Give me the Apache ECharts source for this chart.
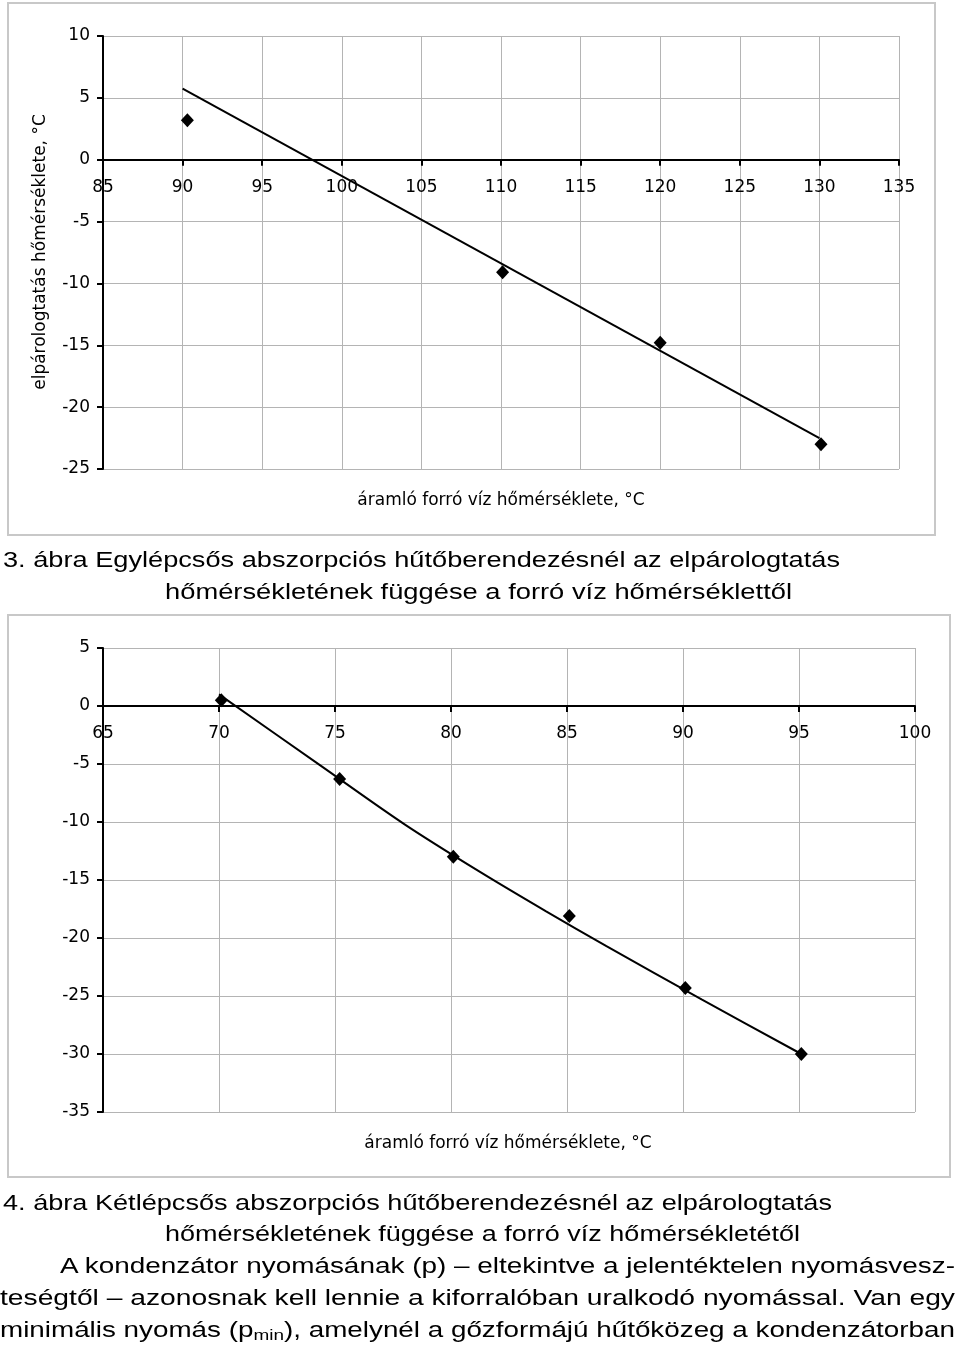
<!DOCTYPE html>
<html>
<head>
<meta charset="utf-8">
<script src="https://cdn.jsdelivr.net/npm/echarts@6/dist/echarts.min.js"></script>
<style>
  html, body { margin: 0; padding: 0; background: #fff; }
  #wrap { position: relative; width: 960px; height: 1345px; overflow: hidden; }
  #chart { position: absolute; left: 0; top: 0; width: 960px; height: 1345px; }
  .cap { position: absolute; white-space: nowrap; font-family: "Liberation Sans", Arial, sans-serif;
         font-size: 22px; line-height: 26px; color: #000; transform-origin: 0 50%; }
  .cap sub { font-size: 15px; vertical-align: -3px; line-height: 0; }
</style>
</head>
<body>
<div id="wrap">
  <div id="chart"></div>
</div>
<script>
// ---------- DATA ----------
// Fig. 3 – single-stage: measured points
const fig3X = [90.3, 110.1, 120.0, 130.1];
const fig3Y = [3.2, -9.1, -14.8, -23.0];
// Fig. 3 – fitted line (read end points)
const fig3LineX = [90.0, 130.0];
const fig3LineY = [5.75, -22.5];
// Fig. 4 – two-stage: measured points
const fig4X = [70.1, 75.2, 80.1, 85.1, 90.1, 95.1];
const fig4Y = [0.5, -6.3, -13.0, -18.1, -24.3, -30.0];
// Fig. 4 – fitted curve
const fig4LineX = [70.0, 74.35, 78.0, 81.25, 84.1, 86.7, 90.8, 95.1];
const fig4LineY = [1.0, -5.1, -10.2, -14.3, -17.7, -20.7, -25.3, -30.0];
// Axis ranges (tick labels generated every 5)
const fig3XRange = [85, 135];
const fig3YRange = [-25, 10];
const fig4XRange = [65, 100];
const fig4YRange = [-35, 5];
const tickStep = 5;
// Texts
const yName3 = "elpárologtatás hőmérséklete, °C";
const xName = "áramló forró víz hőmérséklete, °C";
const captionLines = [
  "3. ábra Egylépcsős abszorpciós hűtőberendezésnél az elpárologtatás",
  "hőmérsékletének függése a forró víz hőmérséklettől",
  "4. ábra Kétlépcsős abszorpciós hűtőberendezésnél az elpárologtatás",
  "hőmérsékletének függése a forró víz hőmérsékletétől",
  "A kondenzátor nyomásának (p) – eltekintve a jelentéktelen nyomásvesz-",
  "teségtől – azonosnak kell lennie a kiforralóban uralkodó nyomással. Van egy",
  "minimális nyomás (p<sub>min</sub>), amelynél a gőzformájú hűtőközeg a kondenzátorban"
];

// ---------- helpers ----------
const zip = (xs, ys) => xs.map((x, i) => [x, ys[i]]);
const FONT = "DejaVu Sans";
const grids = [
  { left: 103, top: 36, width: 796, height: 433 },
  { left: 103, top: 648, width: 812, height: 464 }
];

// x axis drawn along y = 0 (offset computed from the y range and grid height)
function xAxisCfg(range, yRange, gridIndex) {
  const g = grids[gridIndex];
  const zeroFromBottom = g.height * (0 - yRange[0]) / (yRange[1] - yRange[0]);
  return {
    type: 'value', gridIndex, min: range[0], max: range[1], interval: tickStep,
    position: 'bottom', offset: -zeroFromBottom,
    axisLine: { onZero: false, lineStyle: { color: '#000', width: 2 } },
    axisTick: { show: true, inside: false, length: 6, lineStyle: { color: '#000', width: 2 } },
    axisLabel: { color: '#000', fontSize: 17, fontFamily: FONT, margin: 19, showMinLabel: true, showMaxLabel: true },
    splitLine: { show: true, lineStyle: { color: '#b4b4b4', width: 1 } }
  };
}
function yAxisCfg(range, gridIndex) {
  return {
    type: 'value', gridIndex, min: range[0], max: range[1], interval: tickStep,
    axisLine: { show: true, onZero: false, lineStyle: { color: '#000', width: 2 } },
    axisTick: { show: true, inside: false, length: 6, lineStyle: { color: '#000', width: 2 } },
    axisLabel: { color: '#000', fontSize: 17, fontFamily: FONT, margin: 13 },
    splitLine: { show: true, lineStyle: { color: '#b4b4b4', width: 1 } }
  };
}

const chart = echarts.init(document.getElementById('chart'), null, { renderer: 'canvas' });
chart.setOption({
  animation: false,
  backgroundColor: '#fff',
  grid: grids,
  xAxis: [xAxisCfg(fig3XRange, fig3YRange, 0), xAxisCfg(fig4XRange, fig4YRange, 1)],
  yAxis: [yAxisCfg(fig3YRange, 0), yAxisCfg(fig4YRange, 1)],
  graphic: [
    { type: 'rect', silent: true, z: -1, shape: { x: 8, y: 3, width: 927, height: 532 },
      style: { fill: 'none', stroke: '#c8c8c8', lineWidth: 2 } },
    { type: 'rect', silent: true, z: -1, shape: { x: 8, y: 615, width: 942, height: 562 },
      style: { fill: 'none', stroke: '#c8c8c8', lineWidth: 2 } },
    { type: 'text', x: 41, y: 252, rotation: Math.PI / 2,
      style: { text: yName3, fontSize: 17, fontFamily: FONT, fill: '#000', textAlign: 'center', textVerticalAlign: 'middle' } },
    { type: 'text', x: 501, y: 501,
      style: { text: xName, fontSize: 17, fontFamily: FONT, fill: '#000', textAlign: 'center', textVerticalAlign: 'middle' } },
    { type: 'text', x: 508, y: 1144,
      style: { text: xName, fontSize: 17, fontFamily: FONT, fill: '#000', textAlign: 'center', textVerticalAlign: 'middle' } }
  ],
  series: [
    { type: 'line', xAxisIndex: 0, yAxisIndex: 0, data: zip(fig3LineX, fig3LineY), showSymbol: false,
      lineStyle: { color: '#000', width: 2 }, z: 3 },
    { type: 'scatter', xAxisIndex: 0, yAxisIndex: 0, data: zip(fig3X, fig3Y), symbol: 'diamond',
      symbolSize: [13, 14], itemStyle: { color: '#000', opacity: 1 }, z: 4 },
    { type: 'line', xAxisIndex: 1, yAxisIndex: 1, data: zip(fig4LineX, fig4LineY), showSymbol: false,
      smooth: 0.3, lineStyle: { color: '#000', width: 2 }, z: 3 },
    { type: 'scatter', xAxisIndex: 1, yAxisIndex: 1, data: zip(fig4X, fig4Y), symbol: 'diamond',
      symbolSize: [13, 14], itemStyle: { color: '#000', opacity: 1 }, z: 4 }
  ]
});

// ---------- captions (HTML text, stretched to the reference line extents) ----------
// [left, right, centerY]
const capPos = [
  [3, 840, 560], [165, 792, 592],
  [3, 832, 1203], [165, 800, 1234],
  [60, 955, 1266], [0, 955, 1298], [0, 955, 1330]
];
const wrap = document.getElementById('wrap');
captionLines.forEach((t, i) => {
  const d = document.createElement('div');
  d.className = 'cap';
  d.innerHTML = t;
  wrap.appendChild(d);
  const [l, r, cy] = capPos[i];
  const w = d.getBoundingClientRect().width;
  d.style.left = l + 'px';
  d.style.top = (cy - 13) + 'px';
  d.style.transform = 'scaleX(' + ((r - l) / w).toFixed(4) + ')';
});
</script>
</body>
</html>
